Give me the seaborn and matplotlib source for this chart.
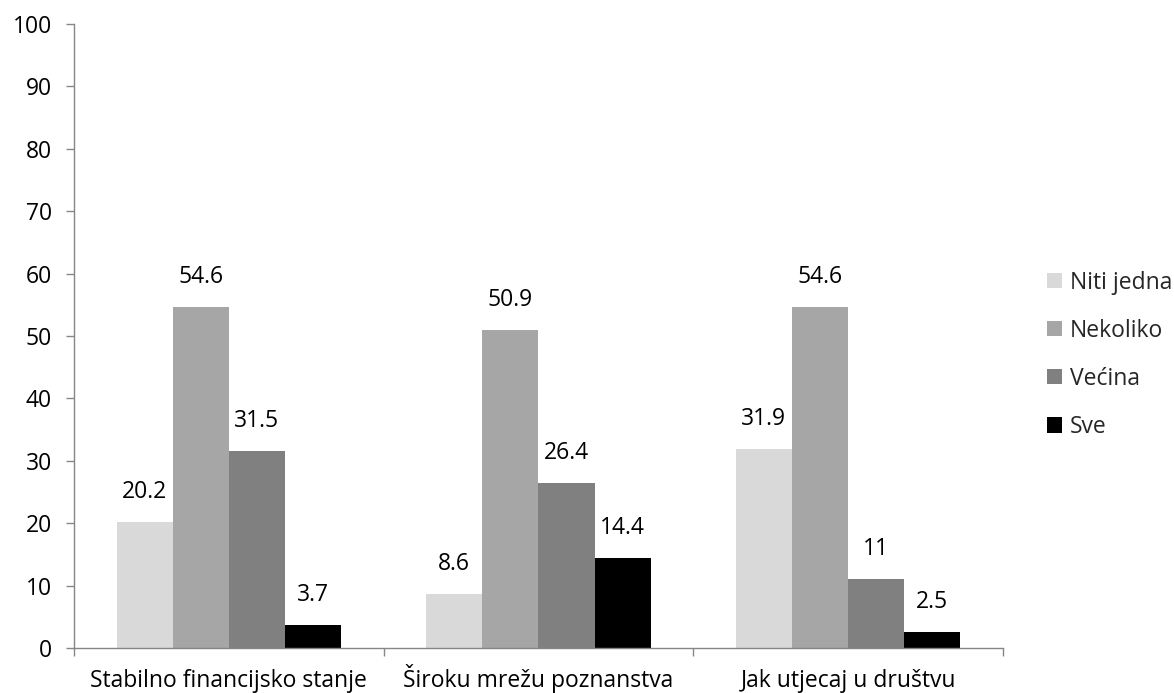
import matplotlib
matplotlib.use("Agg")
import matplotlib.pyplot as plt
import seaborn as sns
import pandas as pd
from matplotlib.patches import Patch

categories = ["Stabilno financijsko stanje", "Široku mrežu poznanstva", "Jak utjecaj u društvu"]
series = ["Niti jedna", "Nekoliko", "Većina", "Sve"]
niti_jedna = [20.2, 8.6, 31.9]
nekoliko = [54.6, 50.9, 54.6]
vecina = [31.5, 26.4, 11]
sve = [3.7, 14.4, 2.5]
colors = ["#D9D9D9", "#A6A6A6", "#808080", "#000000"]

rows = []
for s, vals in zip(series, [niti_jedna, nekoliko, vecina, sve]):
    for c, v in zip(categories, vals):
        rows.append({"cat": c, "series": s, "value": v})
df = pd.DataFrame(rows)

sns.set_style("white")
plt.rcParams["font.family"] = ["Open Sans", "DejaVu Sans"]
FS = 16.5

fig = plt.figure(figsize=(11.74, 6.93), dpi=100)
ax = fig.add_axes([0.0630, 0.0649, 0.7913, 0.9004])

sns.barplot(data=df, x="cat", y="value", hue="series", hue_order=series,
            order=categories, palette=colors, width=0.725, ax=ax,
            legend=False, saturation=1, linewidth=0)

for cont in ax.containers:
    labels = [("%g" % v) for v in cont.datavalues]
    ax.bar_label(cont, labels=labels, padding=13, fontsize=FS, color="#000000")

ax.set_ylim(0, 100)
ax.set_xlim(-0.5, 2.5)
ax.set_yticks(range(0, 101, 10))
ax.set_xlabel("")
ax.set_ylabel("")
ax.tick_params(axis="y", labelsize=FS, length=5.8, width=1, color="#868686",
               direction="out", left=True, pad=10, labelcolor="#000000")
ax.set_xticks([0, 1, 2])
ax.set_xticklabels(categories)
ax.tick_params(axis="x", labelsize=FS, length=0, pad=28, labelcolor="#000000")
for lbl in ax.get_xticklabels():
    lbl.set_verticalalignment("baseline")
ax.set_xticks([-0.5, 0.5, 1.5, 2.5], minor=True)
ax.tick_params(axis="x", which="minor", length=5.8, width=1, color="#868686",
               direction="out", bottom=True)

for side in ["top", "right"]:
    ax.spines[side].set_visible(False)
for side in ["left", "bottom"]:
    ax.spines[side].set_color("#868686")
    ax.spines[side].set_linewidth(1)

handles = [Patch(facecolor=c, edgecolor="none") for c in colors]
fig.legend(handles, series, loc="center left", bbox_to_anchor=(0.874, 0.488),
           frameon=False, fontsize=FS, handlelength=0.65, handleheight=0.65,
           handletextpad=0.35, labelspacing=1.05)

fig.savefig("out.png", dpi=100)
